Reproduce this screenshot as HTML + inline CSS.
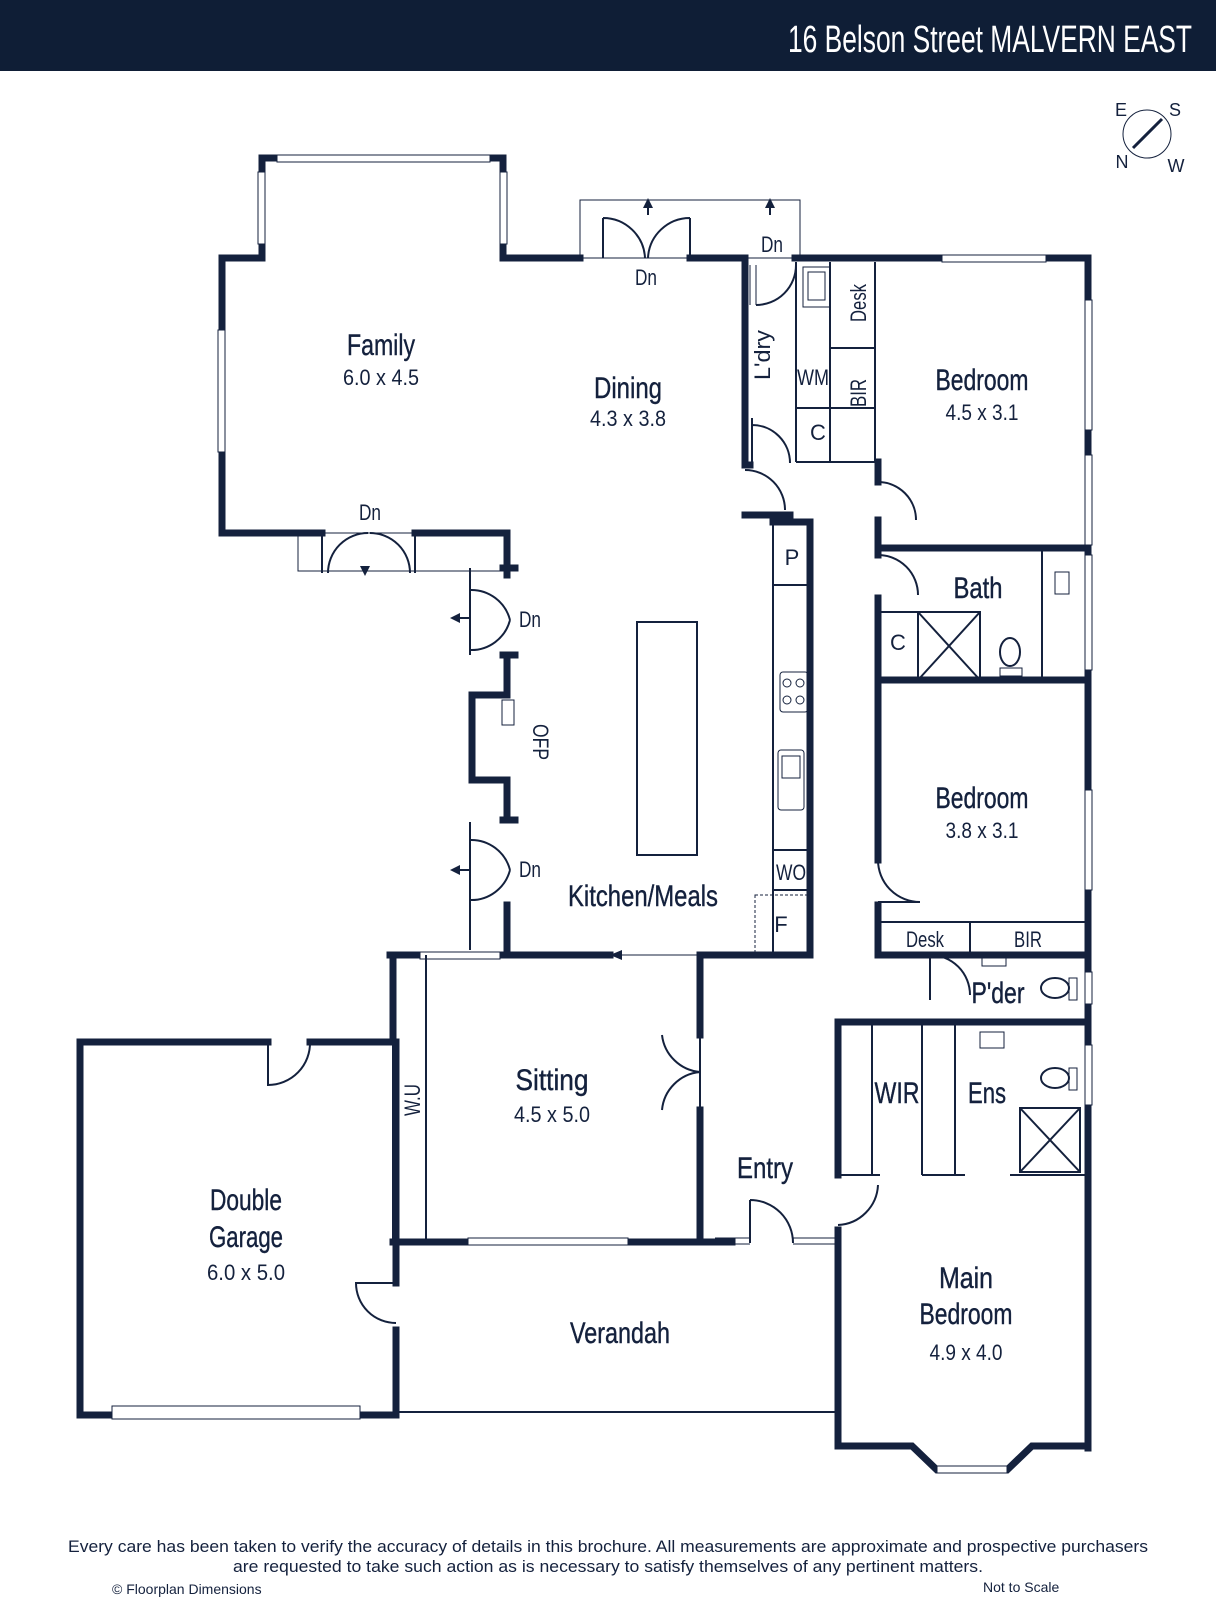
<!DOCTYPE html>
<html><head><meta charset="utf-8"><style>
html,body{margin:0;padding:0;background:#fff;width:1216px;height:1600px;overflow:hidden}
svg{display:block}
text{font-family:"Liberation Sans Narrow","Liberation Sans",sans-serif;fill:#14213d}
.w{stroke:#14213d;stroke-width:7;fill:none;stroke-linecap:square}
.t{stroke:#14213d;stroke-width:2;fill:none}
.n{stroke:#14213d;stroke-width:1;fill:none}
.win{fill:#fff;stroke:#14213d;stroke-width:1}
.lbl{font-size:30px;text-anchor:middle;stroke:#14213d;stroke-width:0.4}
.dim{font-size:22px;text-anchor:middle}
.sm{font-size:22px;text-anchor:middle}
</style></head><body>
<svg width="1216" height="1600" viewBox="0 0 1216 1600">
<rect x="0" y="0" width="1216" height="71" fill="#0f1e36"/>
<text x="788" y="52" font-size="38" textLength="404" lengthAdjust="spacingAndGlyphs" style="fill:#fff">16 Belson Street MALVERN EAST</text>
<!-- compass -->
<circle cx="1147" cy="134" r="24" class="n"/>
<line x1="1133" y1="148" x2="1162" y2="119" stroke="#14213d" stroke-width="3"/>
<text x="1121" y="116" font-size="18" text-anchor="middle">E</text>
<text x="1175" y="116" font-size="18" text-anchor="middle">S</text>
<text x="1122" y="168" font-size="18" text-anchor="middle">N</text>
<text x="1176" y="172" font-size="18" text-anchor="middle">W</text>

<!-- Family -->
<path class="w" d="M580,258 L503,258 L503,158 L262,158 L262,258 L222,258 L222,533 L322,533"/>
<path class="w" d="M415,533 L507,533 L507,575"/>
<rect class="win" x="277" y="155" width="213" height="7"/>
<rect class="win" x="258" y="172" width="7" height="72"/>
<rect class="win" x="500" y="172" width="7" height="72"/>
<rect class="win" x="218" y="330" width="7" height="122"/>
<rect class="n" x="298" y="533" width="210" height="38"/>
<path class="t" d="M322,533 L322,573 M415,533 L415,573 M328,573 A40,40 0 0 1 368,533 M410,573 A40,40 0 0 0 370,533"/>
<path d="M365,576 l-5,-10 h10z" fill="#14213d"/>
<text x="370" y="520" class="sm" textLength="22" lengthAdjust="spacingAndGlyphs">Dn</text>
<rect class="n" x="580" y="200" width="220" height="58"/>
<path class="t" d="M603,218 L603,258 M690,218 L690,258 M603,218 A42,42 0 0 1 645,258 M690,218 A42,42 0 0 0 648,258"/>
<line x1="648" y1="200" x2="648" y2="215" class="t"/><path d="M648,198 l-5,10 h10z" fill="#14213d"/>
<line x1="770" y1="200" x2="770" y2="215" class="t"/><path d="M770,198 l-5,10 h10z" fill="#14213d"/>
<text x="646" y="285" class="sm" textLength="22" lengthAdjust="spacingAndGlyphs">Dn</text>
<text x="772" y="252" class="sm" textLength="22" lengthAdjust="spacingAndGlyphs">Dn</text>
<path class="w" d="M690,258 L745,258 L745,465"/>
<path class="w" d="M795,258 L1088,258 L1088,1448"/>
<rect class="win" x="942" y="255" width="104" height="7"/>
<rect class="win" x="1085" y="300" width="7" height="130"/>
<rect class="win" x="1085" y="455" width="7" height="90"/>
<rect class="win" x="1085" y="555" width="7" height="115"/>
<rect class="win" x="1085" y="790" width="7" height="100"/>
<rect class="win" x="1085" y="972" width="7" height="32"/>
<rect class="win" x="1085" y="1045" width="7" height="60"/>
<!-- laundry -->
<path class="n" d="M750,265 L750,305 M756,265 L756,305"/>
<path class="t" d="M756,305 A40,40 0 0 0 796,265"/>
<path class="t" d="M796,262 L796,462 M830,262 L830,462 M875,262 L875,462 M796,462 L880,462 M796,408 L875,408 M830,348 L875,348"/>
<rect class="n" x="803" y="267" width="27" height="40"/><rect class="n" x="808" y="272" width="17" height="28"/>
<text x="813" y="385" class="sm" font-size="24" textLength="32" lengthAdjust="spacingAndGlyphs">WM</text>
<text x="818" y="440" class="sm" font-size="24">C</text>
<text transform="translate(770,355) rotate(-90)" class="sm" font-size="28" textLength="50" lengthAdjust="spacingAndGlyphs">L'dry</text>
<text transform="translate(866,303) rotate(-90)" class="sm" textLength="38" lengthAdjust="spacingAndGlyphs">Desk</text>
<text transform="translate(866,393) rotate(-90)" class="sm" textLength="28" lengthAdjust="spacingAndGlyphs">BIR</text>
<path class="t" d="M752,418 L752,465 M752,425 A38,38 0 0 1 790,463"/>
<path class="w" d="M745,465 L750,465 M745,515 L790,515"/>
<path class="t" d="M745,470 A40,40 0 0 1 785,510"/>
<path class="w" d="M878,462 L878,482 M878,520 L878,548 L1085,548"/>
<path class="t" d="M878,482 A38,38 0 0 1 916,520"/>
<text x="982" y="390" class="lbl" textLength="93" lengthAdjust="spacingAndGlyphs">Bedroom</text><text x="982" y="420" class="dim" textLength="73" lengthAdjust="spacingAndGlyphs">4.5 x 3.1</text>
<!-- bath -->
<path class="w" d="M878,548 L878,555 M878,598 L878,680 L1085,680"/>
<path class="t" d="M878,555 A40,40 0 0 1 918,595"/>
<path class="t" d="M878,612 L918,612 L918,680 M918,612 L980,612 L980,680 M918,612 L980,680 M980,612 L918,680 M1042,550 L1042,680"/>
<rect class="n" x="1055" y="572" width="14" height="22"/>
<ellipse cx="1010" cy="652" rx="10" ry="14" class="t"/><rect class="n" x="1000" y="668" width="22" height="8"/>
<text x="898" y="650" class="sm" font-size="24">C</text>
<text x="978" y="598" class="lbl" textLength="49" lengthAdjust="spacingAndGlyphs">Bath</text>
<!-- bedroom 2 -->
<path class="w" d="M878,680 L878,860 M878,905 L878,955 L1085,955"/>
<path class="t" d="M878,860 A42,42 0 0 0 920,902 L878,902"/>
<path class="t" d="M878,922 L1085,922 M970,922 L970,955"/>
<text x="925" y="947" class="sm" textLength="38" lengthAdjust="spacingAndGlyphs">Desk</text><text x="1028" y="947" class="sm" textLength="28" lengthAdjust="spacingAndGlyphs">BIR</text>
<text x="982" y="808" class="lbl" textLength="93" lengthAdjust="spacingAndGlyphs">Bedroom</text><text x="982" y="838" class="dim" textLength="73" lengthAdjust="spacingAndGlyphs">3.8 x 3.1</text>
<!-- powder -->
<path class="t" d="M930,955 L930,1000 M930,955 A40,40 0 0 1 970,995"/>
<rect class="n" x="982" y="958" width="24" height="8"/>
<ellipse cx="1055" cy="988" rx="14" ry="10" class="t"/><rect class="n" x="1069" y="978" width="8" height="22"/>
<text x="998" y="1003" class="lbl" font-size="28" textLength="53" lengthAdjust="spacingAndGlyphs">P'der</text>
<path class="w" d="M838,1022 L1085,1022"/>
<!-- WIR / Ens -->
<path class="t" d="M872,1022 L872,1175 M838,1175 L880,1175 M922,1022 L922,1175 M955,1022 L955,1175 M922,1175 L965,1175 M1010,1175 L1085,1175"/>
<path class="w" d="M838,1022 L838,1175"/>
<rect class="n" x="980" y="1032" width="24" height="16"/>
<ellipse cx="1055" cy="1078" rx="14" ry="10" class="t"/><rect class="n" x="1069" y="1068" width="8" height="22"/>
<path class="t" d="M1020,1108 L1080,1108 L1080,1172 L1020,1172Z M1020,1108 L1080,1172 M1080,1108 L1020,1172"/>
<text x="897" y="1103" class="lbl" font-size="28" textLength="45" lengthAdjust="spacingAndGlyphs">WIR</text>
<text x="987" y="1103" class="lbl" font-size="28" textLength="38" lengthAdjust="spacingAndGlyphs">Ens</text>
<path class="t" d="M838,1225 A42,42 0 0 0 878,1185"/>
<!-- main bedroom -->
<path class="w" d="M838,1230 L838,1446 L912,1446 L937,1470 L1007,1470 L1032,1446 L1088,1446"/>
<rect class="win" x="937" y="1466" width="70" height="7"/>
<text x="966" y="1288" class="lbl" textLength="54" lengthAdjust="spacingAndGlyphs">Main</text><text x="966" y="1324" class="lbl" textLength="93" lengthAdjust="spacingAndGlyphs">Bedroom</text><text x="966" y="1360" class="dim" textLength="73" lengthAdjust="spacingAndGlyphs">4.9 x 4.0</text>
<!-- entry -->
<path class="t" d="M750,1200 L750,1243 M750,1200 A43,43 0 0 1 793,1243"/>
<path class="n" d="M793,1238 L838,1238 M793,1244 L838,1244 M715,1238 L750,1238 M715,1244 L750,1244"/>
<text x="765" y="1178" class="lbl" textLength="56" lengthAdjust="spacingAndGlyphs">Entry</text>
<!-- kitchen left wall -->
<path class="t" d="M470,568 L470,655 M470,822 L470,950"/>
<path class="w" d="M503,568 L515,568 M503,655 L515,655 M507,655 L507,695 L472,695 L472,780 L507,780 L507,820 M503,820 L515,820 M507,905 L507,950"/>
<rect class="n" x="502" y="700" width="12" height="25"/>
<path class="t" d="M470,590 A40,40 0 0 1 510,620 M470,650 A40,40 0 0 0 510,620 M470,840 A40,40 0 0 1 510,870 M470,900 A40,40 0 0 0 510,870"/>
<path class="t" d="M460,618 L470,618 M460,870 L470,870"/><path d="M450,618 l10,-5 v10z M450,870 l10,-5 v10z" fill="#14213d"/>
<text x="530" y="627" class="sm" textLength="22" lengthAdjust="spacingAndGlyphs">Dn</text><text x="530" y="877" class="sm" textLength="22" lengthAdjust="spacingAndGlyphs">Dn</text>
<text transform="translate(533,742) rotate(90)" class="sm" font-size="24" textLength="36" lengthAdjust="spacingAndGlyphs">OFP</text>
<!-- island & bench -->
<rect x="637" y="622" width="60" height="233" class="t"/>
<path class="w" d="M773,522 L810,522 L810,955"/>
<path class="t" d="M773,522 L773,955 M773,585 L810,585 M773,850 L810,850 M773,890 L810,890"/>
<rect class="n" x="755" y="895" width="52" height="57" stroke-dasharray="3,2"/>
<rect class="n" x="780" y="672" width="28" height="40" rx="3"/>
<circle cx="787" cy="683" r="4" class="n"/><circle cx="800" cy="683" r="4" class="n"/><circle cx="787" cy="700" r="4" class="n"/><circle cx="800" cy="700" r="4" class="n"/>
<rect class="n" x="778" y="750" width="26" height="60" rx="3"/><rect class="n" x="782" y="756" width="18" height="22"/>
<text x="792" y="565" class="sm">P</text><text x="791" y="880" class="sm" textLength="30" lengthAdjust="spacingAndGlyphs">WO</text><text x="781" y="932" class="sm">F</text>
<text x="628" y="398" class="lbl" textLength="68" lengthAdjust="spacingAndGlyphs">Dining</text><text x="628" y="426" class="dim" textLength="76" lengthAdjust="spacingAndGlyphs">4.3 x 3.8</text>
<text x="381" y="355" class="lbl" textLength="68" lengthAdjust="spacingAndGlyphs">Family</text><text x="381" y="385" class="dim" textLength="76" lengthAdjust="spacingAndGlyphs">6.0 x 4.5</text>
<text x="643" y="906" class="lbl" textLength="150" lengthAdjust="spacingAndGlyphs">Kitchen/Meals</text>
<!-- kitchen bottom -->
<path class="w" d="M390,955 L610,955 M700,955 L810,955"/>
<path class="n" d="M610,955 L700,955"/><path d="M610,955 l12,-5 v10z" fill="#14213d"/>
<rect class="win" x="420" y="952" width="80" height="7"/>
<!-- sitting -->
<path class="w" d="M393,955 L393,1040 M393,1242 L732,1242 M700,955 L700,1035 M700,1110 L700,1242"/>
<path class="t" d="M393,955 L393,1240 M426,955 L426,1240 M700,1035 L700,1110 M700,1072 A42,42 0 0 1 662,1035 M700,1072 A42,42 0 0 0 662,1110"/>
<rect class="win" x="468" y="1238" width="160" height="7"/>
<text transform="translate(420,1100) rotate(-90)" class="sm" textLength="32" lengthAdjust="spacingAndGlyphs">W.U</text>
<text x="552" y="1090" class="lbl" textLength="73" lengthAdjust="spacingAndGlyphs">Sitting</text><text x="552" y="1122" class="dim" textLength="76" lengthAdjust="spacingAndGlyphs">4.5 x 5.0</text>
<!-- garage -->
<path class="w" d="M268,1042 L80,1042 L80,1415 L396,1415 L396,1330 M396,1283 L396,1042 L310,1042"/>
<path class="t" d="M268,1042 L268,1085 A42,42 0 0 0 310,1042"/>
<path class="t" d="M396,1283 L356,1283 A40,40 0 0 0 396,1323"/>
<rect class="win" x="112" y="1406" width="248" height="13"/>
<text x="246" y="1210" class="lbl" textLength="72" lengthAdjust="spacingAndGlyphs">Double</text><text x="246" y="1247" class="lbl" textLength="74" lengthAdjust="spacingAndGlyphs">Garage</text><text x="246" y="1280" class="dim" textLength="78" lengthAdjust="spacingAndGlyphs">6.0 x 5.0</text>
<!-- verandah -->
<path class="t" d="M396,1412 L838,1412"/>
<path class="w" d="M838,1240 L838,1446"/>
<text x="620" y="1343" class="lbl" textLength="100" lengthAdjust="spacingAndGlyphs">Verandah</text>
<!-- footer -->
<text x="608" y="1552" font-size="17" text-anchor="middle" textLength="1080" lengthAdjust="spacingAndGlyphs">Every care has been taken to verify the accuracy of details in this brochure. All measurements are approximate and prospective purchasers</text>
<text x="608" y="1572" font-size="17" text-anchor="middle" textLength="750" lengthAdjust="spacingAndGlyphs">are requested to take such action as is necessary to satisfy themselves of any pertinent matters.</text>
<text x="112" y="1594" font-size="14">© Floorplan Dimensions</text>
<text x="983" y="1592" font-size="14">Not to Scale</text>
</svg>
</body></html>
